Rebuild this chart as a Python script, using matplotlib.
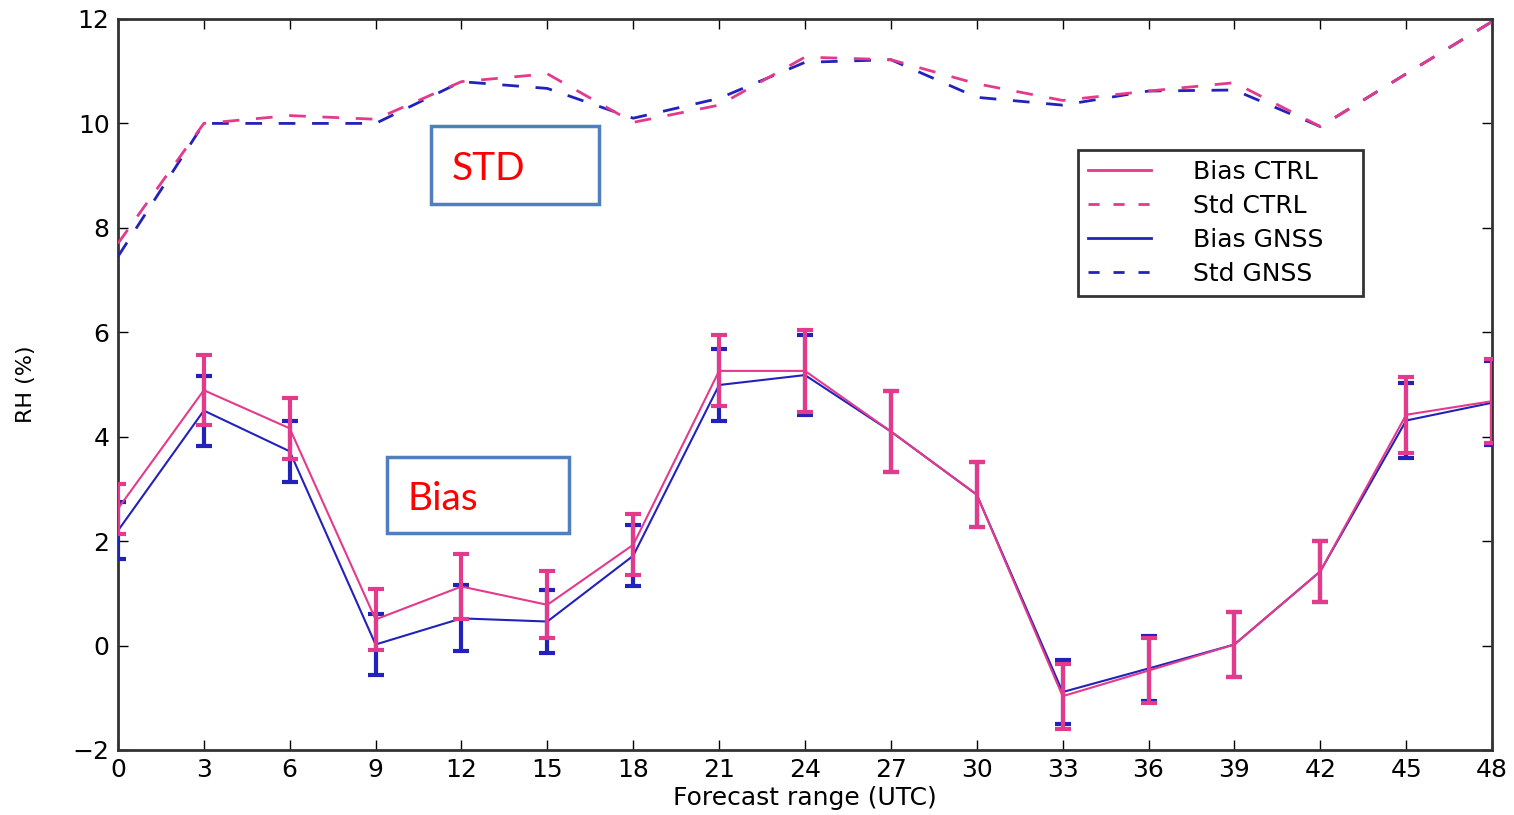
import matplotlib
matplotlib.use("Agg")
import matplotlib.pyplot as plt
from matplotlib.patches import Rectangle
from matplotlib.lines import Line2D

hours = [0, 3, 6, 9, 12, 15, 18, 21, 24, 27, 30, 33, 36, 39, 42, 45, 48]

bias_ctrl = [2.62, 4.89, 4.16, 0.50, 1.13, 0.78, 1.93, 5.26, 5.26, 4.10, 2.89, -0.97, -0.48, 0.02, 1.42, 4.42, 4.68]
err_ctrl = [0.48, 0.67, 0.59, 0.58, 0.62, 0.64, 0.58, 0.68, 0.78, 0.77, 0.62, 0.62, 0.63, 0.62, 0.59, 0.73, 0.80]
std_ctrl = [7.70, 10.00, 10.15, 10.08, 10.80, 10.95, 10.02, 10.35, 11.27, 11.22, 10.76, 10.44, 10.62, 10.78, 9.94, 10.95, 11.95]

bias_gnss = [2.20, 4.50, 3.72, 0.02, 0.52, 0.46, 1.72, 4.99, 5.18, 4.10, 2.89, -0.89, -0.44, 0.02, 1.42, 4.31, 4.65]
err_gnss = [0.55, 0.67, 0.58, 0.58, 0.63, 0.60, 0.58, 0.68, 0.77, 0.77, 0.62, 0.61, 0.63, 0.62, 0.59, 0.72, 0.80]
std_gnss = [7.45, 10.00, 10.00, 10.00, 10.80, 10.67, 10.10, 10.48, 11.17, 11.22, 10.50, 10.35, 10.62, 10.64, 9.94, 10.95, 11.95]

series_labels = ["Bias CTRL", "Std CTRL", "Bias GNSS", "Std GNSS"]
yticks = [-2, 0, 2, 4, 6, 8, 10, 12]

pink = "#e43a8c"
blue = "#2222bb"

fig = plt.figure(figsize=(15.14, 8.15), dpi=100)
ax = fig.add_axes([0.0779, 0.0798, 0.9076, 0.8969])

ax.errorbar(hours, bias_gnss, yerr=err_gnss, color=blue, lw=1.5, elinewidth=3,
            capsize=5.5, capthick=3, zorder=3)
ax.errorbar(hours, bias_ctrl, yerr=err_ctrl, color=pink, lw=1.5, elinewidth=3,
            capsize=5.5, capthick=3, zorder=4)
ax.plot(hours, std_ctrl, color=pink, lw=2, ls=(0, (6, 6)), zorder=4)
ax.plot(hours, std_gnss, color=blue, lw=2, ls=(0, (6, 6)), zorder=3)

ax.set_xlim(0, 48)
ax.set_ylim(-2, 12)
ax.set_xticks(hours)
ax.set_yticks(yticks)
ax.tick_params(direction="in", top=True, right=True, length=7, width=1, labelsize=18, pad=6)
for sp in ax.spines.values():
    sp.set_linewidth(2)
    sp.set_color("#333333")
ax.set_xlabel("Forecast range (UTC)", fontsize=18, labelpad=3)
ax.set_ylabel("RH (%)", fontsize=16, labelpad=26)

handles = [Line2D([], [], color=pink, lw=2),
           Line2D([], [], color=pink, lw=2, ls=(0, (4, 5))),
           Line2D([], [], color=blue, lw=2),
           Line2D([], [], color=blue, lw=2, ls=(0, (4, 5)))]
leg = ax.legend(handles, series_labels, loc="upper left",
                bbox_to_anchor=(0.699, 0.621, 0.207, 0.2), mode="expand",
                fontsize=18, frameon=True, fancybox=False, borderpad=0.4,
                labelspacing=0.4, handlelength=2.5, handletextpad=1.7, borderaxespad=0)
leg.get_frame().set_edgecolor("black")
leg.get_frame().set_linewidth(2)

box_color = "#4f7fbf"
ax.add_patch(Rectangle((0.228, 0.747), 0.122, 0.107, transform=ax.transAxes,
                       fill=True, facecolor="white", edgecolor=box_color, lw=2.5, zorder=6))
ax.text(0.243, 0.795, "STD", transform=ax.transAxes, color="red", fontsize=28,
        family="Lato", va="center", ha="left", zorder=7)
ax.add_patch(Rectangle((0.196, 0.297), 0.132, 0.104, transform=ax.transAxes,
                       fill=True, facecolor="white", edgecolor=box_color, lw=2.5, zorder=6))
ax.text(0.211, 0.343, "Bias", transform=ax.transAxes, color="red", fontsize=28,
        family="Lato", va="center", ha="left", zorder=7)

fig.savefig("out.png", dpi=100)
